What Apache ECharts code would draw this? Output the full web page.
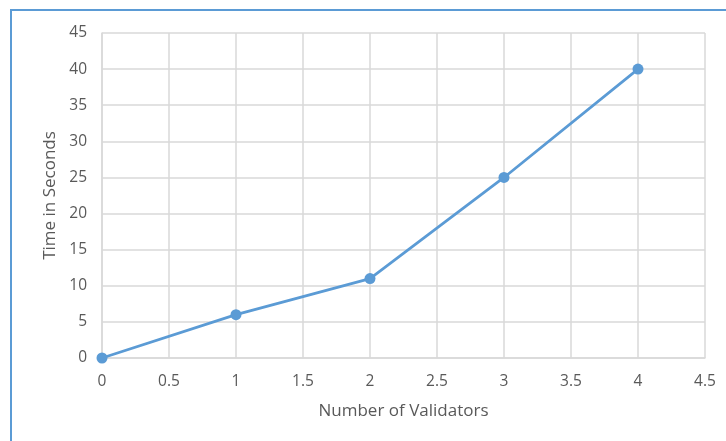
<!DOCTYPE html>
<html>
<head>
<meta charset="utf-8">
<script src="https://cdn.jsdelivr.net/npm/echarts@6/dist/echarts.min.js"></script>
<style>
html,body{margin:0;padding:0;background:#fff;overflow:hidden;}
#frame{position:absolute;left:10px;top:9px;width:800px;height:500px;border-left:2px solid #5b9bd5;border-top:2px solid #5b9bd5;}
#chart{position:absolute;left:0;top:0;width:726px;height:441px;}
</style>
</head>
<body>
<div id="frame"></div>
<div id="chart"></div>
<script>
const validators = [0, 1, 2, 3, 4];
const seconds = [0, 6, 11, 25, 40];
const xAxisTitle = 'Number of Validators';
const yAxisTitle = 'Time in Seconds';

const chart = echarts.init(document.getElementById('chart'));
const labelStyle = {color:'#595959', fontSize:15.5, fontFamily:'Open Sans'};
const nameStyle = {color:'#595959', fontSize:17, fontFamily:'Open Sans'};
chart.setOption({
  animation:false,
  grid:{left:102, right:21, top:33, bottom:83},
  xAxis:{
    type:'value', min:0, max:4.5, interval:0.5,
    name:xAxisTitle, nameLocation:'middle', nameGap:45,
    nameTextStyle:nameStyle,
    axisLine:{show:true, lineStyle:{color:'#d9d9d9', width:1.5}},
    axisTick:{show:false},
    axisLabel:Object.assign({margin:16}, labelStyle),
    splitLine:{show:true, lineStyle:{color:'#d9d9d9', width:1.5}}
  },
  yAxis:{
    type:'value', min:0, max:45, interval:5,
    name:yAxisTitle, nameLocation:'middle', nameGap:43,
    nameTextStyle:nameStyle,
    axisLine:{show:true, lineStyle:{color:'#d9d9d9', width:1.5}},
    axisTick:{show:false},
    axisLabel:Object.assign({margin:15}, labelStyle),
    splitLine:{show:true, lineStyle:{color:'#d9d9d9', width:1.5}}
  },
  series:[{
    type:'line',
    data:validators.map((v,i)=>[v, seconds[i]]),
    symbol:'circle', symbolSize:11,
    lineStyle:{color:'#5b9bd5', width:2.75},
    itemStyle:{color:'#5b9bd5'}
  }]
});
</script>
</body>
</html>
